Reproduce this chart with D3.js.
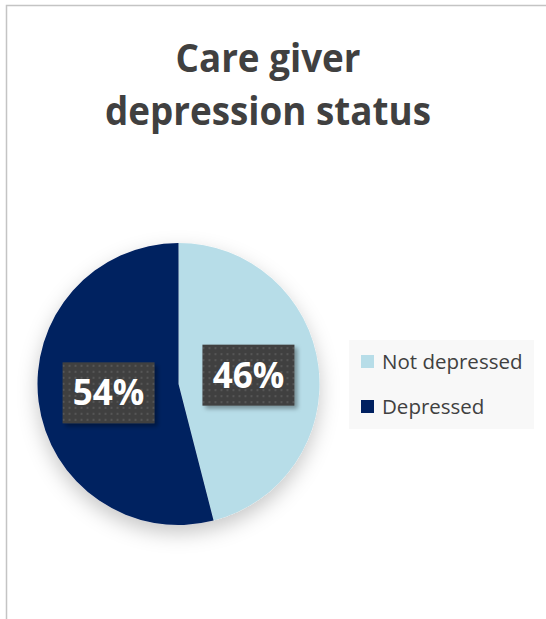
<!DOCTYPE html>
<html><head><meta charset="utf-8">
<script src="https://cdn.jsdelivr.net/npm/d3@7"></script>
<style>html,body{margin:0;padding:0;background:#fff;}svg{display:block;}</style>
</head><body>
<script>
const categories = ["Not depressed", "Depressed"];
const values = [46, 54];
const labels = ["46%", "54%"];
const titleLines = ["Care giver", "depression status"];
const colors = ["#b7dde8", "#002060"];

const W = 546, H = 619;
const svg = d3.select("body").append("svg").attr("width", W).attr("height", H);
const defs = svg.append("defs");

const sh = defs.append("filter").attr("id","pieShadow").attr("x","-30%").attr("y","-30%").attr("width","160%").attr("height","160%");
sh.append("feDropShadow").attr("dx",0).attr("dy",8).attr("stdDeviation",10).attr("flood-color","#000").attr("flood-opacity",0.22);

const lsh = defs.append("filter").attr("id","lblShadow").attr("x","-20%").attr("y","-20%").attr("width","150%").attr("height","150%");
lsh.append("feDropShadow").attr("dx",3).attr("dy",3).attr("stdDeviation",2).attr("flood-color","#000").attr("flood-opacity",0.35);

const pat = defs.append("pattern").attr("id","dots").attr("patternUnits","userSpaceOnUse").attr("width",6).attr("height",6);
pat.append("rect").attr("width",6).attr("height",6).attr("fill","#404040");
pat.append("rect").attr("x",2).attr("y",2).attr("width",2).attr("height",2).attr("fill","#565656");

// chart border
svg.append("rect").attr("x",6.5).attr("y",5.5).attr("width",W+20).attr("height",H+20)
  .attr("fill","#fff").attr("stroke","#c4c4c4").attr("stroke-width",1.5);

// title
const tg = svg.append("g").attr("transform","translate(268,0) scale(0.92,1)");
tg.selectAll("text").data(titleLines).join("text")
  .attr("x",0).attr("y",(d,i)=>72+i*53).attr("text-anchor","middle")
  .attr("font-family","Open Sans").attr("font-weight","bold").attr("font-size",40).attr("fill","#404040")
  .text(d=>d);

// pie
const cx = 178.5, cy = 384, R = 141;
const pie = d3.pie().sort(null).value(d=>d)(values);
const arc = d3.arc().innerRadius(0).outerRadius(R);
const g = svg.append("g").attr("transform",`translate(${cx},${cy})`);
g.append("g").attr("filter","url(#pieShadow)").selectAll("path").data(pie).join("path")
  .attr("d",arc).attr("fill",(d,i)=>colors[i]);

// data labels
const labelArc = d3.arc().innerRadius(R*0.5).outerRadius(R*0.5);
const lg = g.selectAll("g.lbl").data(pie).join("g").attr("class","lbl")
  .attr("transform",(d,i)=>{const c=labelArc.centroid(d);return `translate(${c[0]},${c[1]})`;});
lg.append("rect").attr("x",-46).attr("y",-30.5).attr("width",92).attr("height",61)
  .attr("fill","url(#dots)").attr("filter","url(#lblShadow)");
lg.append("text").attr("text-anchor","middle").attr("dy","0.36em")
  .attr("font-family","Open Sans").attr("font-weight","bold").attr("font-size",35).attr("fill","#fff")
  .text((d,i)=>labels[i]);

// legend
const leg = svg.append("g");
leg.append("rect").attr("x",349).attr("y",340).attr("width",185).attr("height",89).attr("fill","#f8f8f8");
const li = leg.selectAll("g.li").data(categories).join("g").attr("class","li")
  .attr("transform",(d,i)=>`translate(361,${355+i*45})`);
li.append("rect").attr("width",13).attr("height",13).attr("fill",(d,i)=>colors[i]);
li.append("text").attr("x",21).attr("y",14).attr("font-family","Open Sans").attr("font-size",20.5).attr("fill","#404040")
  .text(d=>d);
</script>
</body></html>
